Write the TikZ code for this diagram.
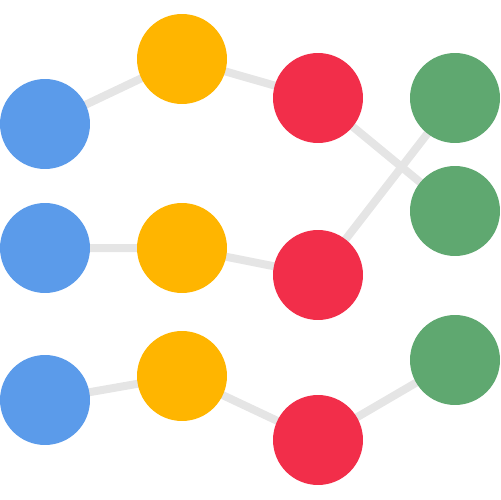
\documentclass[tikz,border=0pt]{standalone}
\usepackage{tikz}
\usetikzlibrary{backgrounds}
\definecolor{dotblue}{RGB}{91, 155, 234}
\definecolor{dotyellow}{RGB}{255, 181, 0}
\definecolor{dotred}{RGB}{242, 46, 74}
\definecolor{dotgreen}{RGB}{95, 168, 112}
\definecolor{linkgray}{RGB}{229, 229, 229}
\tikzset{
    dot/.style={circle, minimum size=1.8cm, inner sep=0pt},
    link/.style={linkgray, line width=0.16cm}
}

\begin{document}
\begin{tikzpicture}[x=0.02cm, y=-0.02cm]
        \useasboundingbox (0,0) rectangle (500,500);

        % first column
        \node[dot, fill=dotblue] (b1) at (45,124) {};
        \node[dot, fill=dotblue] (b2) at (45,248) {};
        \node[dot, fill=dotblue] (b3) at (45,400) {};
        % second column
        \node[dot, fill=dotyellow] (y1) at (182,59) {};
        \node[dot, fill=dotyellow] (y2) at (182,248) {};
        \node[dot, fill=dotyellow] (y3) at (182,376) {};
        % third column
        \node[dot, fill=dotred] (r1) at (318,98) {};
        \node[dot, fill=dotred] (r2) at (318,275) {};
        \node[dot, fill=dotred] (r3) at (318,440) {};
        % last column
        \node[dot, fill=dotgreen] (g1) at (455,98) {};
        \node[dot, fill=dotgreen] (g2) at (455,211) {};
        \node[dot, fill=dotgreen] (g3) at (455,360) {};

        \begin{pgfonlayer}{background}
        \draw[link] (b1.center) -- (y1.center) -- (r1.center) -- (g2.center);
        \draw[link] (b2.center) -- (y2.center) -- (r2.center) -- (g1.center);
        \draw[link] (b3.center) -- (y3.center) -- (r3.center) -- (g3.center);
        \end{pgfonlayer}
    \end{tikzpicture}
\end{document}
